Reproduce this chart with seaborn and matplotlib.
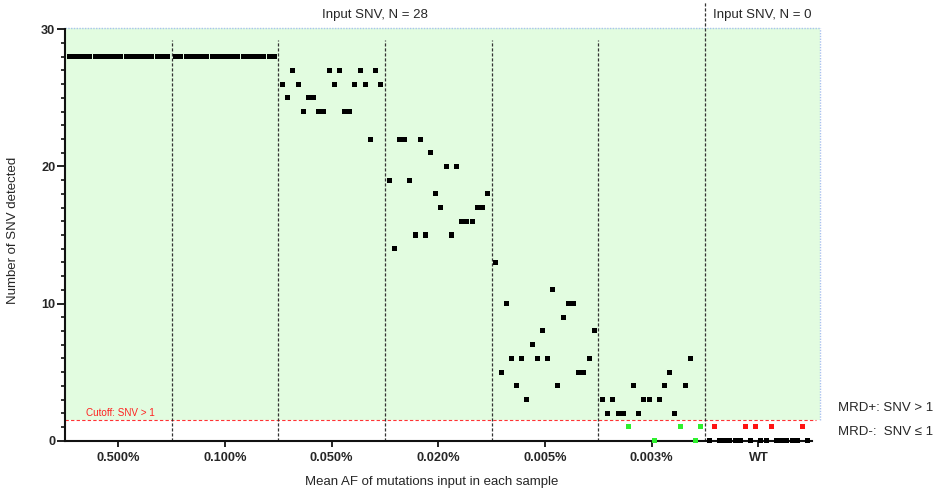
import matplotlib
matplotlib.use("Agg")
import matplotlib.pyplot as plt
import numpy as np
import pandas as pd
import seaborn as sns
from matplotlib.patches import Rectangle
from matplotlib.ticker import MultipleLocator, FixedLocator

# ---------------- data ----------------
groups = ["0.500%", "0.100%", "0.050%", "0.020%", "0.005%", "0.003%", "WT"]
snv_0500 = [28, 28, 28, 28, 28, 28, 28, 28, 28, 28, 28, 28, 28, 28, 28, 28, 28, 28, 28, 28]
snv_0100 = [28, 28, 28, 28, 28, 28, 28, 28, 28, 28, 28, 28, 28, 28, 28, 28, 28, 28, 28, 28]
snv_0050 = [26, 25, 27, 26, 24, 25, 25, 24, 24, 27, 26, 27, 24, 24, 26, 27, 26, 22, 27, 26]
snv_0020 = [19, 14, 22, 22, 19, 15, 22, 15, 21, 18, 17, 20, 15, 20, 16, 16, 16, 17, 17, 18]
snv_0005 = [13, 5, 10, 6, 4, 6, 3, 7, 6, 8, 6, 11, 4, 9, 10, 10, 5, 5, 6, 8]
snv_0003 = [3, 2, 3, 2, 2, 1, 4, 2, 3, 3, 0, 3, 4, 5, 2, 1, 4, 6, 0, 1]
snv_wt = [0, 1, 0, 0, 0, 0, 0, 1, 0, 1, 0, 0, 1, 0, 0, 0, 0, 0, 1, 0]
group_values = [snv_0500, snv_0100, snv_0050, snv_0020, snv_0005, snv_0003, snv_wt]
cutoff = 1.5
input_labels = ["Input SNV, N = 28", "Input SNV, N = 0"]

# ---------------- layout constants ----------------
GROUP_STEP = 20.6
X_LEFT = -10.3
X_RIGHT = 6 * GROUP_STEP + 10.3
BOX_RIGHT = 6 * GROUP_STEP + 11.9

rows = []
for g, (name, vals) in enumerate(zip(groups, group_values)):
    n = len(vals)
    for i, v in enumerate(vals):
        if name == "WT":
            status = "fp" if v > 0 else "ok"
        else:
            status = "fn" if v < cutoff else "ok"
        rows.append({"x": g * GROUP_STEP + (i - (n - 1) / 2), "y": v,
                     "status": status, "group": name})
df = pd.DataFrame(rows)

sns.set_style("ticks")
plt.rcParams["font.family"] = ["Liberation Sans", "DejaVu Sans"]

fig = plt.figure(figsize=(9.41, 4.96), dpi=100)
ax = fig.add_axes([65 / 941, 1 - 440.7 / 496, (811.7 - 65) / 941, (440.7 - 29.3) / 496])

# green background box
ax.add_patch(Rectangle((X_LEFT, cutoff), BOX_RIGHT - X_LEFT, 30.08 - cutoff,
                       facecolor="#e2fce0", edgecolor="none", zorder=0, clip_on=False))
ax.plot([X_LEFT, BOX_RIGHT], [30.08, 30.08], ls=(0, (1, 1)), color="#a9c2ef",
        lw=1.0, clip_on=False, zorder=1)
ax.plot([BOX_RIGHT, BOX_RIGHT], [cutoff, 30.08], ls=(0, (1, 1)), color="#a9c2ef",
        lw=1.0, clip_on=False, zorder=1)

# cutoff line
ax.plot([X_LEFT, BOX_RIGHT - 0.8], [cutoff, cutoff], ls=(0, (3, 2)), color="#ff3333",
        lw=0.8, clip_on=False, zorder=2)
ax.text(-6.3, 2.0, "Cutoff: SNV > 1", color="#ff2020", fontsize=7.1,
        ha="left", va="center")

# dividers
for g in range(6):
    xd = (g + 0.5) * GROUP_STEP
    top = 32.05 if g == 5 else 29.25
    ax.plot([xd, xd], [0, top], ls=(0, (2.5, 1.5)), color="#333333", lw=0.9,
            clip_on=False, zorder=2)

# points
sns.scatterplot(data=df, x="x", y="y", hue="status",
                palette={"ok": "#000000", "fn": "#2ef02e", "fp": "#ff1414"},
                marker="s", s=13, linewidth=0, legend=False, ax=ax,
                clip_on=False, zorder=5)

ax.set_xlim(X_LEFT, X_RIGHT)
ax.set_ylim(0, 30)

for sp in ["top", "right"]:
    ax.spines[sp].set_visible(False)
for sp in ["left", "bottom"]:
    ax.spines[sp].set_linewidth(1.5)
    ax.spines[sp].set_color("#111111")

ax.set_xticks([g * GROUP_STEP for g in range(len(groups))])
ax.set_xticklabels(groups, fontweight="bold", fontsize=9.2)
ax.set_yticks([0, 10, 20, 30])
ax.set_yticklabels(["0", "10", "20", "30"], fontweight="bold", fontsize=9.2)
ax.yaxis.set_minor_locator(MultipleLocator(1))
ax.tick_params(axis="x", which="major", length=4, width=1.3, pad=4, color="#111111")
ax.tick_params(axis="y", which="major", length=5.5, width=1.3, pad=1.5, color="#111111")
ax.tick_params(axis="y", which="minor", length=3, width=1.2, color="#111111")
ax.set_xlabel("")
ax.set_ylabel("")

# texts
ax.text(49.6, 31.07, input_labels[0], ha="center", va="center", fontsize=9.5)
ax.text(114.85, 31.07, input_labels[1], ha="left", va="center", fontsize=9.5)
ax.text(139.0, 2.39, "MRD+: SNV > 1", ha="left", va="center", fontsize=9.5)
ax.text(139.0, 0.64, "MRD-:  SNV \u2264 1", ha="left", va="center", fontsize=9.5)

fig.text(13.3 / 941, 1 - 230 / 496, "Number of SNV detected", rotation=90,
         ha="center", va="center", fontsize=9.5)
fig.text(432 / 941, 1 - 481.7 / 496, "Mean AF of mutations input in each sample",
         ha="center", va="center", fontsize=9.5)

fig.savefig("out.png", dpi=100)
